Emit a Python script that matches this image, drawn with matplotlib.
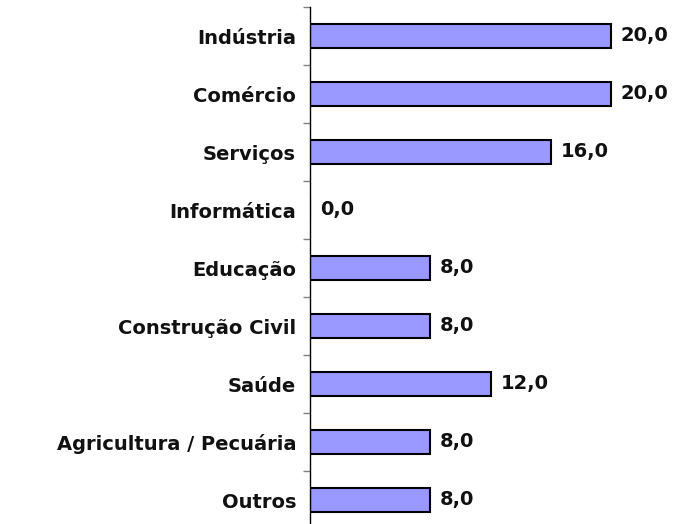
import matplotlib
matplotlib.use('Agg')
from matplotlib import pyplot as plt

categories = ['Indústria', 'Comércio', 'Serviços', 'Informática', 'Educação',
              'Construção Civil', 'Saúde', 'Agricultura / Pecuária', 'Outros']
values = [20.0, 20.0, 16.0, 0.0, 8.0, 8.0, 12.0, 8.0, 8.0]

plt.rcParams['font.family'] = ['DejaVu Sans']

fig = plt.figure(figsize=(6.8, 5.24), dpi=100)
# axes runs from x=310px to the right edge; y band slightly overflows the bottom
ax = fig.add_axes([310 / 680, -5 / 524, 370 / 680, 522 / 524])

n = len(categories)
pos = list(range(n))
ax.barh(pos, values, height=0.4, color='#9999FF', edgecolor='black', linewidth=1.5)
ax.set_ylim(n - 0.5, -0.5)
ax.set_xlim(0, 370 / 15.05)

for p, v in zip(pos, values):
    ax.annotate(('%.1f' % v).replace('.', ','), (v, p), xytext=(7, 0),
                textcoords='offset points', va='center', ha='left',
                fontsize=14, fontweight='bold', color='#111111')

ax.set_yticks([p - 0.5 for p in pos] + [n - 0.5])
ax.set_yticklabels([])
ax.tick_params(axis='y', which='major', length=5, width=1, color='#808080', direction='out')
ax.set_yticks(pos, minor=True)
ax.set_yticklabels(categories, minor=True, fontsize=14, fontweight='bold', color='#111111')
ax.tick_params(axis='y', which='minor', length=0, pad=10)

ax.set_xticks([])
for s in ['top', 'right', 'bottom']:
    ax.spines[s].set_visible(False)
ax.spines['left'].set_linewidth(1)

fig.savefig('out.png', dpi=100)
